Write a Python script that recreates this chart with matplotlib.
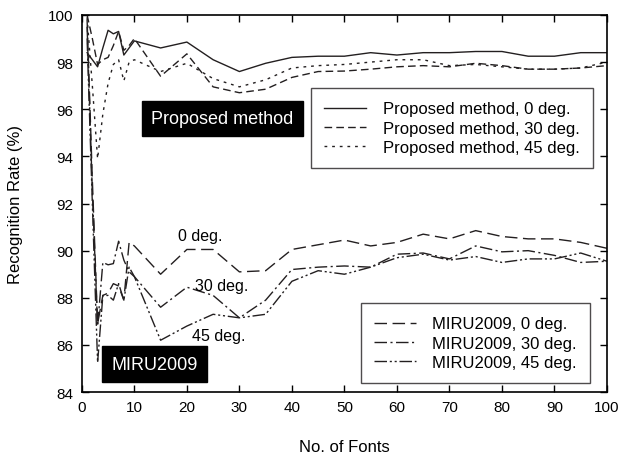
import numpy as np
import matplotlib
matplotlib.use("Agg")
import matplotlib.pyplot as plt

plt.rcParams['font.family'] = ['Liberation Sans', 'DejaVu Sans']

# No. of fonts used for training
n_fonts = [1, 2, 3, 4, 5, 6, 7, 8, 9, 10, 15, 20, 25, 30, 35, 40, 45, 50,
           55, 60, 65, 70, 75, 80, 85, 90, 95, 100]

# Recognition rate (%) - proposed method
prop_0 = [98.4, 98.1, 97.8, 98.6, 99.35, 99.2, 99.3, 98.3, 98.6, 98.9, 98.6,
          98.85, 98.1, 97.6, 97.95, 98.2, 98.25, 98.25, 98.4, 98.3, 98.4,
          98.4, 98.45, 98.45, 98.25, 98.25, 98.4, 98.4]
prop_30 = [100.0, 99.0, 97.9, 98.1, 98.2, 98.7, 99.3, 98.5, 98.7, 99.0, 97.4,
           98.35, 96.95, 96.7, 96.85, 97.35, 97.6, 97.62, 97.7, 97.8, 97.85,
           97.8, 97.95, 97.85, 97.7, 97.7, 97.75, 97.85]
prop_45 = [99.9, 97.0, 93.9, 95.8, 97.1, 97.9, 98.1, 97.2, 98.0, 98.1, 97.6,
           97.95, 97.3, 96.95, 97.25, 97.75, 97.85, 97.9, 98.0, 98.1, 98.1,
           97.85, 97.9, 97.8, 97.7, 97.7, 97.75, 98.0]

# Recognition rate (%) - MIRU2009
miru_0 = [99.8, 93.0, 86.9, 88.1, 88.2, 88.6, 88.5, 87.9, 90.35, 90.2, 89.0,
          90.05, 90.05, 89.1, 89.15, 90.05, 90.25, 90.45, 90.2, 90.35, 90.7,
          90.5, 90.85, 90.6, 90.5, 90.5, 90.35, 90.1]
miru_30 = [99.5, 92.5, 86.8, 89.5, 89.4, 89.45, 90.4, 89.6, 89.1, 88.9, 87.6,
           88.45, 88.1, 87.15, 87.9, 89.2, 89.3, 89.35, 89.3, 89.85, 89.9,
           89.65, 90.2, 89.95, 90.0, 89.8, 89.5, 89.55]
miru_45 = [99.0, 92.0, 85.25, 88.1, 88.1, 87.9, 88.6, 87.9, 89.3, 88.9, 86.2,
           86.8, 87.3, 87.15, 87.3, 88.7, 89.15, 89.0, 89.3, 89.7, 89.85,
           89.6, 89.75, 89.5, 89.65, 89.65, 89.9, 89.55]

ink = '#231f20'

fig = plt.figure(figsize=(6.2, 4.56), dpi=100)
ax = fig.add_axes([0.132, 0.138, 0.847, 0.827])

p0, = ax.plot(n_fonts, prop_0, color=ink, lw=1.0, linestyle='-',
              label='Proposed method, 0 deg.')
p30, = ax.plot(n_fonts, prop_30, color=ink, lw=1.0, linestyle=(0, (5.5, 3)),
               label='Proposed method, 30 deg.')
p45, = ax.plot(n_fonts, prop_45, color=ink, lw=1.0, linestyle=(0, (2, 3.5)),
               label='Proposed method, 45 deg.')
m0, = ax.plot(n_fonts, miru_0, color=ink, lw=1.0, linestyle=(0, (9, 4)),
              label='MIRU2009, 0 deg.')
m30, = ax.plot(n_fonts, miru_30, color=ink, lw=1.0,
               linestyle=(0, (9, 2.5, 1.5, 2.5)), label='MIRU2009, 30 deg.')
m45, = ax.plot(n_fonts, miru_45, color=ink, lw=1.0,
               linestyle=(0, (9, 2, 1.5, 2, 1.5, 2)), label='MIRU2009, 45 deg.')

ax.set_xlim(0, 100)
ax.set_ylim(84, 100)
ax.set_xticks(np.arange(0, 101, 10))
ax.set_yticks(np.arange(84, 101, 2))
ax.tick_params(direction='in', top=True, right=True, labelsize=11,
               length=5, width=1, colors='black', pad=6)
for s in ax.spines.values():
    s.set_linewidth(1.2)

ax.set_xlabel('No. of Fonts', fontsize=12, labelpad=18)
ax.set_ylabel('Recognition Rate (%)', fontsize=12, labelpad=18)

leg_kw = dict(fontsize=12, frameon=True, fancybox=False, edgecolor=ink,
              handlelength=2.5, labelspacing=0.25, borderpad=0.8,
              handletextpad=1.0, borderaxespad=0)
leg1 = ax.legend(handles=[p0, p30, p45], loc='upper right',
                 bbox_to_anchor=(0.973, 0.806), **leg_kw)
leg1.get_frame().set_linewidth(1.0)
ax.add_artist(leg1)
leg2 = ax.legend(handles=[m0, m30, m45], loc='lower right',
                 bbox_to_anchor=(0.968, 0.024), **leg_kw)
leg2.get_frame().set_linewidth(1.0)

box = dict(boxstyle='square,pad=0.5', facecolor='black', edgecolor='black')
ax.text(26.8, 95.6, 'Proposed method', color='white', fontsize=13,
        ha='center', va='center', bbox=box)
ax.text(13.8, 85.19, 'MIRU2009', color='white', fontsize=13,
        ha='center', va='center', bbox=box)

ax.text(22.5, 90.63, '0 deg.', fontsize=11.5, ha='center', va='center')
ax.text(26.6, 88.54, '30 deg.', fontsize=11.5, ha='center', va='center')
ax.text(26.0, 86.4, '45 deg.', fontsize=11.5, ha='center', va='center')

fig.savefig('out.png', dpi=100)
